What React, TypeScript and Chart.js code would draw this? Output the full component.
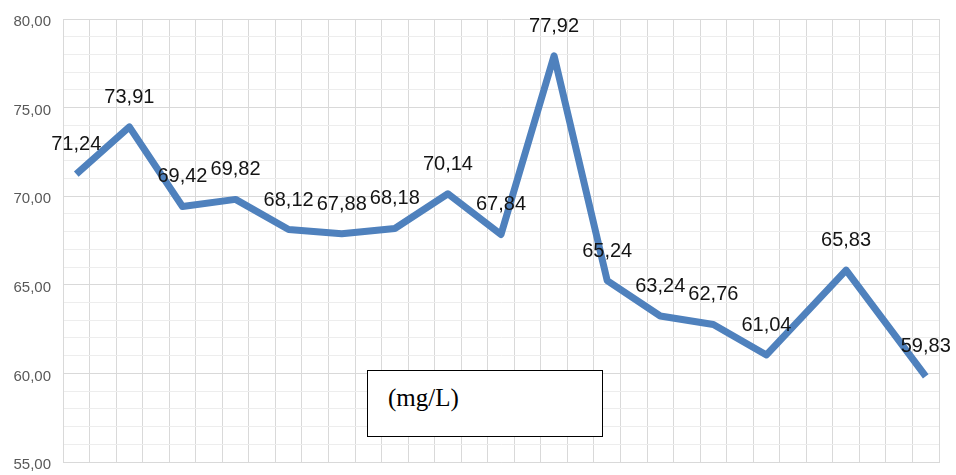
import React, { useEffect, useRef } from "react";
import { Chart, registerables } from "chart.js";

Chart.register(...registerables);

// Sampling positions along the horizontal axis (half-interval steps)
const samplePositions = [0, 2, 4, 6, 8, 10, 12, 14, 16, 18, 20, 22, 24, 26, 29, 32];
// Measured concentration values (mg/L)
const concentration = [
  71.24, 73.91, 69.42, 69.82, 68.12, 67.88, 68.18, 70.14, 67.84, 77.92, 65.24, 63.24,
  62.76, 61.04, 65.83, 59.83,
];
const yMin = 55;
const yMax = 80;
const yLabelStep = 5;
const unitLabel = "(mg/L)";

const fmt = (v: number) => v.toFixed(2).replace(".", ",");

const valueLabels = {
  id: "valueLabels",
  afterDatasetsDraw(chart: any) {
    const { ctx } = chart;
    const meta = chart.getDatasetMeta(0);
    ctx.save();
    ctx.font = '20px "Liberation Sans", Arial, sans-serif';
    ctx.fillStyle = "#141414";
    ctx.textAlign = "center";
    ctx.textBaseline = "alphabetic";
    meta.data.forEach((el: any, i: number) => {
      ctx.fillText(fmt(concentration[i]), el.x, el.y - 24);
    });
    ctx.restore();
  },
};

export default function App() {
  const canvasRef = useRef<HTMLCanvasElement | null>(null);

  useEffect(() => {
    if (!canvasRef.current) return;
    const xLo = samplePositions[0] - 0.5;
    const xHi = samplePositions[samplePositions.length - 1] + 0.5;
    const xGrid: number[] = [];
    for (let v = xLo; v <= xHi + 1e-9; v += 1) xGrid.push(v);
    const yGrid: number[] = [];
    for (let v = yMin; v <= yMax; v += 1) yGrid.push(v);

    const chart = new Chart(canvasRef.current, {
      type: "line",
      data: {
        datasets: [
          {
            data: samplePositions.map((x, i) => ({ x, y: concentration[i] })),
            borderColor: "#4f81bd",
            borderWidth: 7,
            pointRadius: 0,
            tension: 0,
            fill: false,
            borderJoinStyle: "round",
          },
        ],
      },
      options: {
        responsive: false,
        animation: false,
        devicePixelRatio: 1,
        layout: { padding: { left: 0, top: 19, right: 17, bottom: 13 } },
        plugins: { legend: { display: false }, tooltip: { enabled: false } },
        scales: {
          x: {
            type: "linear",
            min: xLo,
            max: xHi,
            afterBuildTicks: (s: any) => {
              s.ticks = xGrid.map((value) => ({ value }));
            },
            afterFit: (s: any) => {
              s.height = 0;
              s.paddingLeft = 0;
              s.paddingRight = 0;
            },
            ticks: { display: false },
            grid: { color: "#d9d9d9", drawTicks: false, lineWidth: 1 },
            border: { display: true, color: "#d9d9d9" },
          },
          y: {
            type: "linear",
            min: yMin,
            max: yMax,
            afterBuildTicks: (s: any) => {
              s.ticks = yGrid.map((value) => ({ value }));
            },
            afterFit: (s: any) => {
              s.width = 63;
              s.paddingTop = 0;
              s.paddingBottom = 0;
            },
            grid: {
              color: (c: any) =>
                c.tick && c.tick.value % yLabelStep === 0 ? "#d9d9d9" : "#ededed",
              drawTicks: false,
              lineWidth: 1,
            },
            border: { display: true, color: "#d9d9d9" },
            ticks: {
              autoSkip: false,
              padding: 12,
              labelOffset: 3,
              color: "#595959",
              font: { family: '"Liberation Sans", Arial, sans-serif', size: 15 },
              callback: (v: any) => (Number(v) % yLabelStep === 0 ? fmt(Number(v)) : ""),
            },
          },
        },
      },
      plugins: [valueLabels],
    });
    return () => chart.destroy();
  }, []);

  return (
    <div
      style={{
        position: "absolute",
        left: 0,
        top: 0,
        width: 956,
        height: 475,
        background: "#fff",
        overflow: "hidden",
      }}
    >
      <canvas ref={canvasRef} width={956} height={475} style={{ display: "block" }} />
      <div
        style={{
          position: "absolute",
          left: 367,
          top: 370,
          width: 236,
          height: 67,
          boxSizing: "border-box",
          border: "1px solid #000",
          background: "#fff",
        }}
      >
        <div
          style={{
            position: "absolute",
            left: 20,
            top: 14,
            fontFamily: '"Liberation Serif", "Times New Roman", serif',
            fontSize: 25,
            lineHeight: "25px",
            color: "#000",
            whiteSpace: "nowrap",
          }}
        >
          {unitLabel}
        </div>
      </div>
    </div>
  );
}
